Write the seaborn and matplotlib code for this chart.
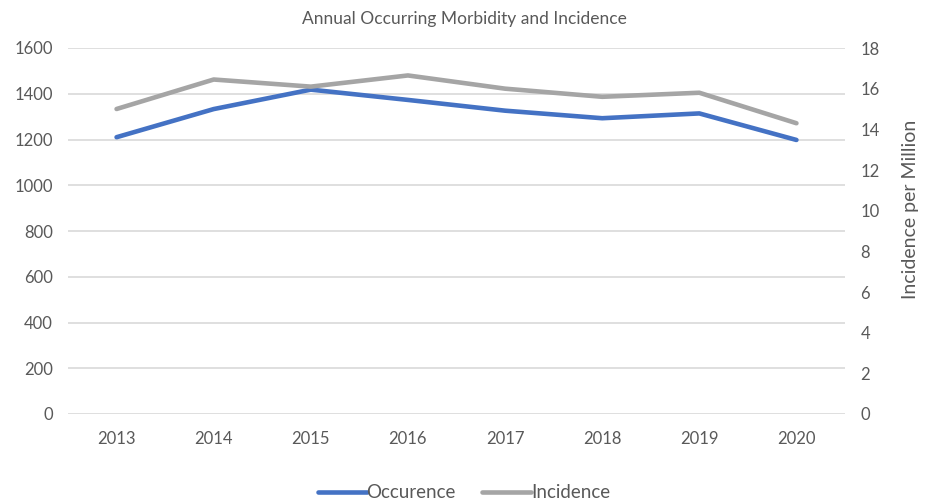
import numpy as np
import pandas as pd
import matplotlib
matplotlib.use("Agg")
import matplotlib.pyplot as plt
import seaborn as sns

years = ['2013', '2014', '2015', '2016', '2017', '2018', '2019', '2020']
occurence = [1210, 1333, 1418, 1373, 1326, 1293, 1314, 1198]
incidence = [15.0, 16.45, 16.1, 16.65, 16.0, 15.6, 15.8, 14.3]

df = pd.DataFrame({'year': years, 'Occurence': occurence, 'Incidence': incidence})

sns.set_theme(style="white")
plt.rcParams['font.family'] = ['Lato', 'DejaVu Sans']
txt = '#595959'
grid = '#d9d9d9'

fig = plt.figure(figsize=(9.28, 5.04), dpi=100)
ax = fig.add_axes([68/928, 90/504, 777/928, 366/504])
ax2 = ax.twinx()

sns.lineplot(data=df, x='year', y='Occurence', ax=ax, color='#4472C4', linewidth=3.3, sort=False, legend=False)
sns.lineplot(data=df, x='year', y='Incidence', ax=ax2, color='#A5A5A5', linewidth=3.3, sort=False, legend=False)

ax.set_xlim(-0.5, 7.5)
ax.set_ylim(0, 1600)
ax.set_yticks(np.arange(0, 1601, 200))
ax2.set_ylim(0, 18)
ax2.set_yticks(np.arange(0, 19, 2))

ax.grid(axis='y', color=grid, linewidth=1.2)
ax.set_axisbelow(True)
for a in (ax, ax2):
    for s in a.spines.values():
        s.set_visible(False)
    a.tick_params(length=0, labelsize=12, colors=txt)
ax.tick_params(axis='x', pad=12)
ax.tick_params(axis='y', pad=11)
ax2.tick_params(axis='y', pad=11)

ax.set_xlabel('')
ax.set_ylabel('')
ax2.set_ylabel('Incidence per Million', color=txt, fontsize=14)
ax2.yaxis.set_label_coords(1.073, 0.56)
fig.text(0.5, 0.962, 'Annual Occurring Morbidity and Incidence', color=txt, fontsize=12.5,
         ha='center', va='center')

h1 = ax.get_lines()[0]
h2 = ax2.get_lines()[0]
fig.legend([h1, h2], ['Occurence', 'Incidence'], loc='center', bbox_to_anchor=(0.5, 0.022),
           ncol=2, frameon=False, fontsize=13.5, labelcolor=txt, handlelength=2.6,
           handletextpad=0.0, columnspacing=1.4)

fig.savefig('out.png', dpi=100)
